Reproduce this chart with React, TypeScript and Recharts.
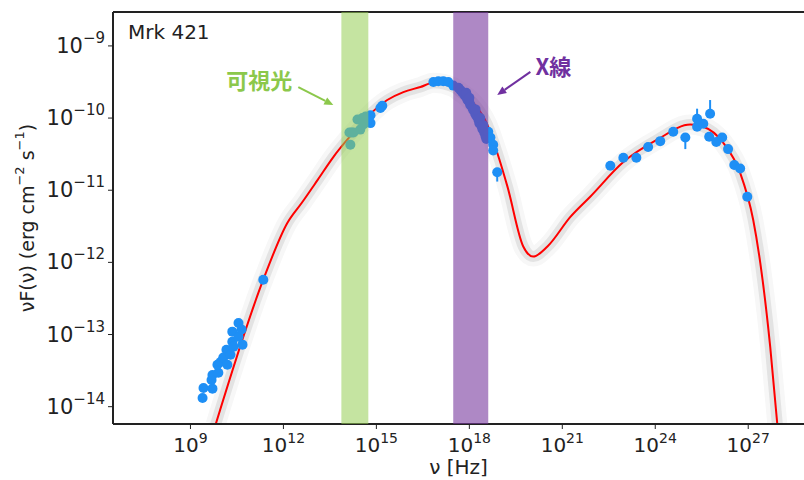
import { ComposedChart, Line, Scatter, XAxis, YAxis, ReferenceArea, ReferenceLine, ErrorBar } from 'recharts';

// values are log10(nu [Hz]) and log10(nuF [erg cm^-2 s^-1])
const curveNu = [9.81, 11.35, 12.13, 12.6, 13.1, 13.61, 14.06, 15.35, 15.87, 16.42, 16.84, 17.48, 17.71, 18.19, 18.58, 18.9, 19.23, 19.74, 20.06, 20.52, 21.26, 21.9, 22.97, 24.06, 25.13, 25.55, 26.19, 26.74, 27.16, 27.39, 27.71, 27.94];
const curveFlux = [-14.25, -12.24, -11.45, -11.17, -10.86, -10.54, -10.3, -9.75, -9.64, -9.57, -9.51, -9.57, -9.64, -9.82, -10.09, -10.48, -10.95, -11.78, -11.92, -11.78, -11.37, -11.09, -10.61, -10.3, -10.09, -10.12, -10.34, -10.76, -11.41, -12.01, -13.17, -14.25];

const radioNu = [9.39, 9.42, 9.71, 9.68, 9.71, 9.9, 9.87, 9.97, 10.06, 10.19, 10.16, 10.29, 10.35, 10.39, 10.35, 10.55, 10.55, 10.68, 10.65, 11.35];
const radioFlux = [-13.88, -13.74, -13.75, -13.63, -13.56, -13.53, -13.42, -13.38, -13.32, -13.42, -13.21, -13.28, -13.1, -13.17, -12.96, -12.84, -13.03, -13.14, -12.93, -12.24];

const opticalNu = [14.16, 14.13, 14.2, 14.26, 14.39, 14.48, 14.58, 14.65, 14.55, 14.81, 14.81, 14.74, 15.13, 15.19];
const opticalFlux = [-10.37, -10.2, -10.2, -10.2, -10.02, -10.16, -10.09, -9.98, -10.0, -9.96, -10.07, -10.02, -9.86, -9.83];

const uvNu = [16.84, 17.0, 17.16, 17.32, 17.48];
const uvFlux = [-9.5, -9.49, -9.49, -9.5, -9.55];

const xrayNu = [17.65, 17.71, 17.77, 17.84, 17.9, 17.94, 18.0, 18.03, 18.1, 18.13, 18.19, 18.23, 18.29, 18.32, 18.39, 18.42, 18.48, 18.52, 18.55, 17.9, 18.0, 18.2, 18.35, 18.45, 18.61, 18.68, 18.77, 18.77];
const xrayFlux = [-9.58, -9.61, -9.64, -9.68, -9.71, -9.75, -9.78, -9.82, -9.86, -9.89, -9.94, -9.97, -10.02, -10.07, -10.11, -10.15, -10.2, -10.25, -10.29, -9.65, -9.72, -9.88, -10.0, -10.1, -10.19, -10.27, -10.37, -10.45];

const errNu = [18.9, 24.97, 25.35, 25.77];
const errFlux = [-10.75, -10.27, -10.01, -9.94];
const errDown = [0.13, 0.16, 0, 0];
const errUp = [0, 0, 0.14, 0.19];

const gammaNu = [22.55, 22.97, 23.39, 23.77, 24.16, 24.58, 25.35, 25.55, 25.74, 25.97, 26.16, 26.35, 26.55, 26.74, 26.97];
const gammaFlux = [-10.66, -10.55, -10.55, -10.4, -10.32, -10.19, -10.12, -10.08, -10.26, -10.33, -10.27, -10.43, -10.65, -10.7, -11.09];

const xTicks = [9, 12, 15, 18, 21, 24, 27];
const yTicks = [-14, -13, -12, -11, -10, -9];

const curve = curveNu.map((x, i) => ({ x, y: curveFlux[i] }));
const pts = (nu: number[], f: number[]) => nu.map((x, i) => ({ x, y: f[i], err: [0, 0] }));
const points = [
  ...pts(radioNu, radioFlux),
  ...pts(opticalNu, opticalFlux),
  ...pts(uvNu, uvFlux),
  ...pts(xrayNu, xrayFlux),
  ...pts(gammaNu, gammaFlux),
  ...errNu.map((x, i) => ({ x, y: errFlux[i], err: [errDown[i], errUp[i]] })),
];

const FONT = '"DejaVu Sans", sans-serif';
const BLUE = '#1e8ff5';

const XTick = (p: any) => (
  <text x={p.x} y={p.y + 21} textAnchor="middle" fontFamily={FONT} fontSize={20} fill="#222">
    10<tspan dy={-9} fontSize={14}>{p.payload.value}</tspan>
  </text>
);

const YTick = (p: any) => (
  <text x={p.x - 1} y={p.y + 7} textAnchor="end" fontFamily={FONT} fontSize={21} fill="#222">
    10<tspan dy={-10} fontSize={15}>{'\u2212' + Math.abs(p.payload.value)}</tspan>
  </text>
);

const Dot = (p: any) => <circle cx={p.cx} cy={p.cy} r={5} fill={BLUE} />;

const arrow = (color: string, label: string, side: 'left' | 'right') => (p: any) => {
  const { x1, y1, x2, y2 } = p;
  const a = Math.atan2(y2 - y1, x2 - x1);
  const L = 9, W = 4;
  const bx = x2 - L * Math.cos(a), by = y2 - L * Math.sin(a);
  const head = `${x2},${y2} ${bx + W * Math.sin(a)},${by - W * Math.cos(a)} ${bx - W * Math.sin(a)},${by + W * Math.cos(a)}`;
  return (
    <g>
      <line x1={x1} y1={y1} x2={bx} y2={by} stroke={color} strokeWidth={2} />
      <polygon points={head} fill={color} />
      <text
        x={side === 'left' ? x1 - 6 : x1 + 5}
        y={side === 'left' ? y1 - 8 : y1 - 7}
        textAnchor={side === 'left' ? 'end' : 'start'}
        dominantBaseline="central"
        fontFamily='"Noto Sans CJK JP", sans-serif'
        fontWeight="bold"
        fontSize={22}
        fill={color}
      >
        {label}
      </text>
    </g>
  );
};

const YLabel = (p: any) => {
  const vb = p.viewBox;
  const cx = vb.x + 27;
  const cy = vb.y + vb.height / 2;
  return (
    <text x={cx} y={cy} transform={`rotate(-90 ${cx} ${cy})`} textAnchor="middle" dominantBaseline="central" fontFamily={FONT} fontSize={19} fill="#222">
      νF(ν) (erg cm<tspan dy={-8} fontSize={13}>−2</tspan><tspan dy={8}> s</tspan><tspan dy={-8} fontSize={13}>−1</tspan><tspan dy={8}>)</tspan>
    </text>
  );
};

export default function App() {
  return (
    <div style={{ position: 'absolute', left: 0, top: 0, width: 804, height: 480, background: '#fff' }}>
      <ComposedChart width={804} height={480} margin={{ top: 12, right: 0, bottom: 0, left: 0 }}>
        <XAxis
          dataKey="x"
          type="number"
          domain={[6.5, 28.8]}
          ticks={xTicks}
          allowDataOverflow
          height={56}
          tick={XTick}
          tickSize={5}
          axisLine={{ stroke: '#222', strokeWidth: 2 }}
          tickLine={{ stroke: '#222' }}
          label={{ value: 'ν [Hz]', position: 'insideBottom', offset: 6, fontFamily: FONT, fontSize: 20, fill: '#222' }}
        />
        <YAxis
          dataKey="y"
          type="number"
          domain={[-14.24, -8.53]}
          ticks={yTicks}
          allowDataOverflow
          width={113}
          tick={YTick}
          tickSize={5}
          axisLine={{ stroke: '#222', strokeWidth: 2 }}
          tickLine={{ stroke: '#222' }}
          label={{ content: YLabel }}
        />
        <ReferenceLine y={-8.53} stroke="#222" strokeWidth={2} />
        <Line data={curve} dataKey="y" type="monotone" stroke="#f7f7f7" strokeWidth={20} dot={false} isAnimationActive={false} />
        <Line data={curve} dataKey="y" type="monotone" stroke="#e3e3e3" strokeWidth={11} dot={false} isAnimationActive={false} />
        <Line data={curve} dataKey="y" type="monotone" stroke="#ff0000" strokeWidth={2} dot={false} isAnimationActive={false} />
        <Scatter data={points} dataKey="y" shape={Dot} isAnimationActive={false}>
          <ErrorBar dataKey="err" direction="y" width={0} stroke={BLUE} strokeWidth={2} />
        </Scatter>
        <ReferenceArea x1={13.87} x2={14.74} fill="#96ce54" fillOpacity={0.55} stroke="none" zIndex={900} />
        <ReferenceArea x1={17.48} x2={18.61} fill="#78399f" fillOpacity={0.6} stroke="none" zIndex={900} />
        <ReferenceLine segment={[{ x: 12.48, y: -9.57 }, { x: 13.61, y: -9.82 }]} shape={arrow('#8cc84b', '可視光', 'left')} />
        <ReferenceLine segment={[{ x: 19.97, y: -9.36 }, { x: 18.9, y: -9.68 }]} shape={arrow('#7030a0', 'X線', 'right')} />
        <text x={128} y={39} fontFamily={FONT} fontSize={20} fill="#222">Mrk 421</text>
      </ComposedChart>
    </div>
  );
}
